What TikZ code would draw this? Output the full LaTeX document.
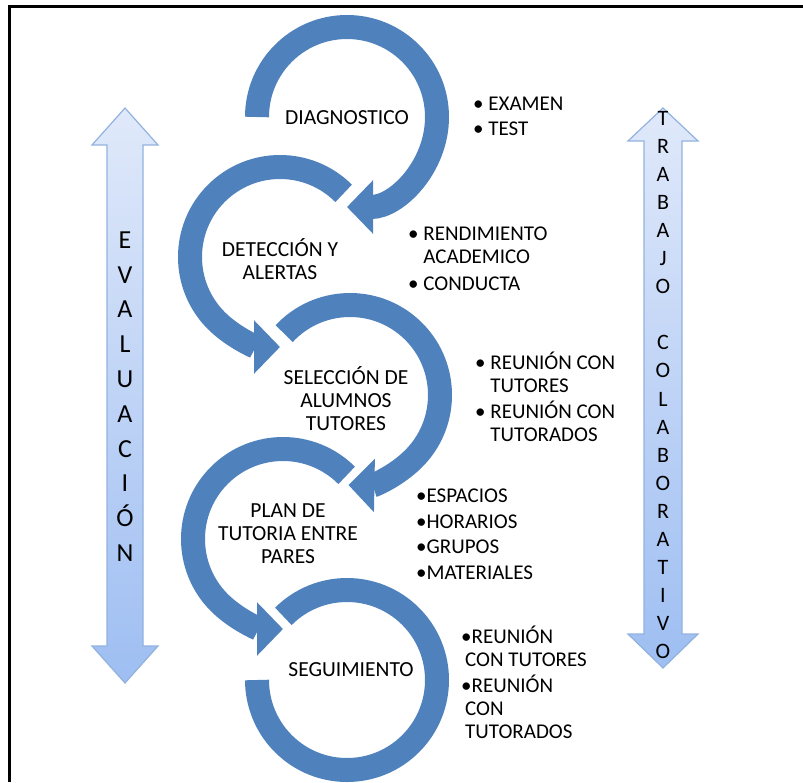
\documentclass[tikz,border=0pt]{standalone}
\usepackage{fontspec}
\setmainfont{Carlito}
\usetikzlibrary{arrows.meta}
\definecolor{ringblue}{RGB}{79,129,189}
\definecolor{arrowtop}{RGB}{224,233,250}
\definecolor{arrowbottom}{RGB}{158,190,242}
\definecolor{arrowedge}{RGB}{146,178,222}
\newcommand{\rad}{90}

\begin{document}
\begin{tikzpicture}[x=1pt, y=1pt,
  ring/.style={draw=ringblue, line width=24pt},
  ringarrow/.style={ring, -{Triangle[width=52pt, length=26pt]}},
  stage/.style={align=center, inner sep=0pt, font=\fontsize{21.5}{23}\selectfont},
  item/.style={align=left, anchor=base west, inner sep=0pt, font=\fontsize{21}{23}\selectfont},
  bigarrow/.style={top color=arrowtop, bottom color=arrowbottom, draw=arrowedge, line width=1.2pt, line join=miter},
  vlabel/.style={align=center, inner sep=0pt}]
    \useasboundingbox (0,0) rectangle (803,-782);

    % frame
    \draw[line width=2.5pt] (9.5,-782) -- (9.5,-6.7) -- (803,-6.7);

    % ring centres
    \coordinate (c1) at (347,-117);
    \coordinate (c2) at (280,-257);
    \coordinate (c3) at (350,-395);
    \coordinate (c4) at (283,-539);
    \coordinate (c5) at (347,-680);

    % rings
    \draw[ringarrow] ([shift={(180:\rad)}]c1) arc[start angle=180, end angle=-90, radius=\rad];
    \draw[ringarrow] ([shift={(45:\rad)}]c2) arc[start angle=45, end angle=270, radius=\rad];
    \draw[ringarrow] ([shift={(137:\rad)}]c3) arc[start angle=137, end angle=-91, radius=\rad];
    \draw[ringarrow] ([shift={(45:\rad)}]c4) arc[start angle=45, end angle=270, radius=\rad];
    \draw[ring] ([shift={(135:\rad)}]c5) arc[start angle=135, end angle=-180, radius=\rad];

    % stages
    \node[stage] (diag) at (347,-118) {DIAGNOSTICO};
    \node[stage] (detec) at (280,-259) {DETECCIÓN Y\\ALERTAS};
    \node[stage] (selec) at (346,-399) {SELECCIÓN DE\\ALUMNOS\\TUTORES};
    \node[stage] (plan) at (288,-534) {PLAN DE\\TUTORIA ENTRE\\PARES};
    \node[stage] (segui) at (351,-670) {SEGUIMIENTO};

    % items (base = last line)
    \node[item] (examen) at (473,-110) {\textbullet\ EXAMEN};
    \node[item] (test) at (473,-135) {\textbullet\ TEST};
    \node[item] (rendim) at (408,-263) {\textbullet\ RENDIMIENTO\\\phantom{\textbullet\ }ACADEMICO};
    \node[item] (conducta) at (408,-290) {\textbullet\ CONDUCTA};
    \node[item] (reutut) at (475,-392) {\textbullet\ REUNIÓN CON\\\phantom{\textbullet\ }TUTORES};
    \node[item] (reutdo) at (475,-441) {\textbullet\ REUNIÓN CON\\\phantom{\textbullet\ }TUTORADOS};
    \node[item] (espacios) at (416,-502) {\textbullet ESPACIOS};
    \node[item] (horarios) at (416,-528) {\textbullet HORARIOS};
    \node[item] (grupos) at (416,-553) {\textbullet GRUPOS};
    \node[item] (materiales) at (416,-579) {\textbullet MATERIALES};
    \node[item] (segtut) at (461,-666) {\textbullet REUNIÓN\\\hspace*{4pt}CON TUTORES};
    \node[item] (segtdo) at (461,-738) {\textbullet REUNIÓN\\\hspace*{4pt}CON\\\hspace*{4pt}TUTORADOS};

    % side arrows
    \shade[bigarrow] (125,-108) -- (158,-145) -- (143,-145) -- (143,-646) -- (158,-646) -- (125,-683)
        -- (92,-646) -- (107,-646) -- (107,-145) -- (92,-145) -- cycle;
    \shade[bigarrow] (663,-108) -- (698,-141) -- (682,-141) -- (682,-634) -- (698,-634) -- (663,-668)
        -- (628,-634) -- (644,-634) -- (644,-141) -- (628,-141) -- cycle;
    \node[vlabel, font=\fontsize{26}{34.8}\selectfont] (evaluacion) at (125,-396.5)
        {E\\V\\A\\L\\U\\A\\C\\I\\Ó\\N};
    \node[vlabel, font=\fontsize{22}{28.1}\selectfont] (trabajo) at (663,-385)
        {T\\R\\A\\B\\A\\J\\O\\[28.1pt]C\\O\\L\\A\\B\\O\\R\\A\\T\\I\\V\\O};
\end{tikzpicture}
\end{document}
